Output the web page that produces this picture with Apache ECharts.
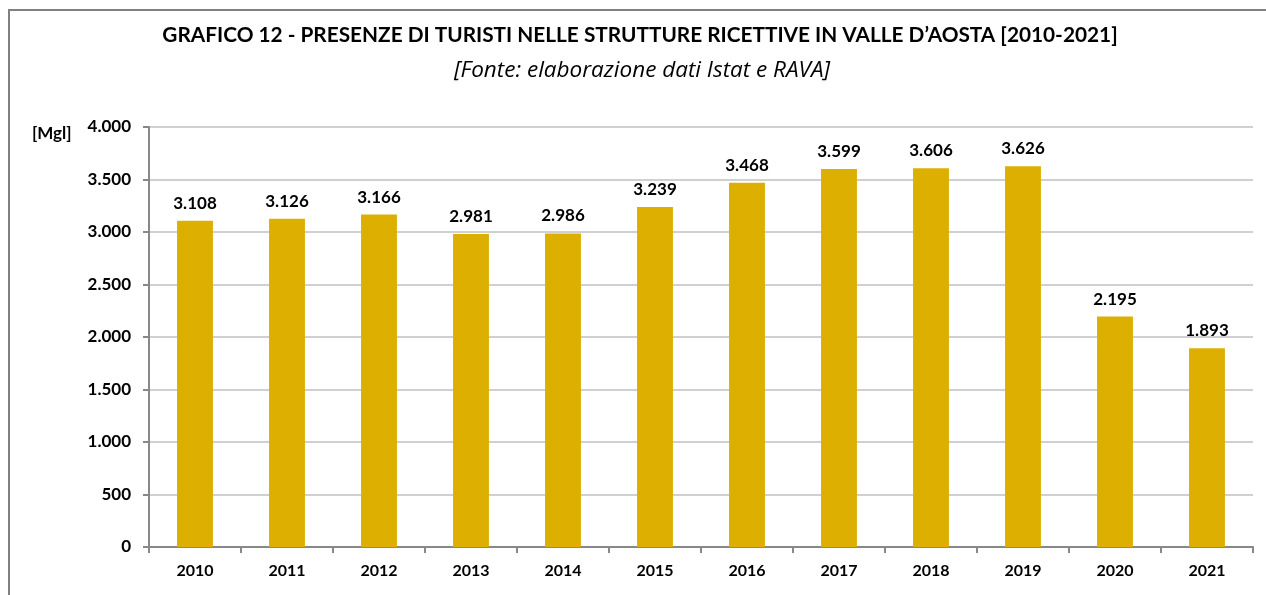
<!DOCTYPE html>
<html>
<head>
<meta charset="utf-8">
<script src="https://cdn.jsdelivr.net/npm/echarts@6/dist/echarts.min.js"></script>
<style>
    html, body { margin: 0; padding: 0; background: #fff; overflow: hidden; }
    #frame { position: absolute; left: 8px; top: 9px; width: 1300px; height: 700px; border: 2px solid #808080; box-sizing: border-box; }
    #main { position: absolute; left: 0; top: 0; width: 1266px; height: 595px; }
</style>
</head>
<body>
<div id="frame"></div>
<div id="main"></div>
<script>
var anni = ['2010', '2011', '2012', '2013', '2014', '2015', '2016', '2017', '2018', '2019', '2020', '2021'];
var presenze = [3108, 3126, 3166, 2981, 2986, 3239, 3468, 3599, 3606, 3626, 2195, 1893];

// numeri con il punto come separatore delle migliaia
function fmt(v) {
    return String(v).replace(/\B(?=(\d{3})+(?!\d))/g, '.');
}

var myChart = echarts.init(document.getElementById('main'));
var font = 'Lato, "Open Sans", sans-serif';

var option = {
    animation: false,
    title: [{
        text: 'GRAFICO 12 - PRESENZE DI TURISTI NELLE STRUTTURE RICETTIVE IN VALLE D\u2019AOSTA [2010-2021]',
        left: 635,
        top: 20,
        textAlign: 'center',
        textStyle: { fontFamily: font, fontSize: 20.8, fontWeight: 'bold', color: '#000' }
    }, {
        text: '[Fonte: elaborazione dati Istat e RAVA]',
        left: 637,
        top: 54,
        textAlign: 'center',
        textStyle: { fontFamily: '"Open Sans", sans-serif', fontSize: 22.5, fontStyle: 'italic', fontWeight: 'normal', color: '#000' }
    }, {
        text: '[Mgl]',
        left: 27,
        top: 120,
        textStyle: { fontFamily: font, fontSize: 17, fontWeight: 'bold', color: '#000' }
    }],
    grid: {
        left: 149,
        right: 13,
        top: 127,
        bottom: 48
    },
    xAxis: {
        type: 'category',
        data: anni,
        axisLine: { lineStyle: { color: '#888', width: 2 } },
        axisTick: { show: true, length: 6, lineStyle: { color: '#888', width: 2 } },
        axisLabel: { margin: 16, fontFamily: font, fontSize: 16, fontWeight: 'bold', color: '#000' }
    },
    yAxis: {
        type: 'value',
        min: 0,
        max: 4000,
        interval: 500,
        axisLine: { show: true, lineStyle: { color: '#888', width: 2 } },
        axisTick: { show: true, length: 6, lineStyle: { color: '#888', width: 2 } },
        splitLine: { lineStyle: { color: '#d0d0d0', width: 2 } },
        axisLabel: {
            margin: 18,
            fontFamily: font, fontSize: 17, fontWeight: 'bold', color: '#000',
            formatter: function (v) { return fmt(v); }
        }
    },
    series: [{
        type: 'bar',
        data: presenze,
        barWidth: '39%',
        itemStyle: { color: '#DDAF00' },
        label: {
            show: true,
            position: 'top',
            distance: 9,
            fontFamily: font, fontSize: 17, fontWeight: 'bold', color: '#000',
            formatter: function (p) { return fmt(p.value); }
        }
    }]
};

myChart.setOption(option);
</script>
</body>
</html>
